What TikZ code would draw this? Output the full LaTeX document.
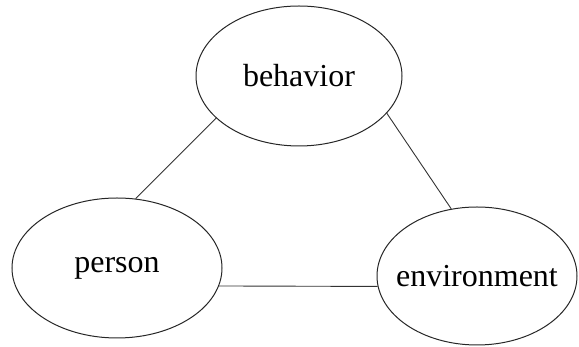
\documentclass[tikz,border=0pt]{standalone}
\usepackage{fontspec}
\setmainfont{Liberation Serif}
\usetikzlibrary{shapes.geometric}
\begin{document}
\begin{tikzpicture}[x=1pt,y=1pt,
  bubble/.style={ellipse,draw=black!85,line width=1pt,inner sep=0pt,
    font=\fontsize{32}{38}\selectfont},
  link/.style={draw=black!80,line width=0.9pt}]
\useasboundingbox (0,0) rectangle (579,347);
\node[bubble,minimum width=206pt,minimum height=140pt] (beh) at (299,271) {\makebox[0pt]{behavior}};
\node[bubble,minimum width=210pt,minimum height=140pt] (per) at (117,79) {\makebox[0pt]{person}};
\node[bubble,minimum width=200pt,minimum height=138pt] (env) at (477,71) {\makebox[0pt]{environment}};
\draw[link] (per.75.6) -- (beh.207);
\draw[link] (beh.337) -- (env.111.7);
\draw[link] (per.-10.5) -- (env.186.2);
\end{tikzpicture}
\end{document}
